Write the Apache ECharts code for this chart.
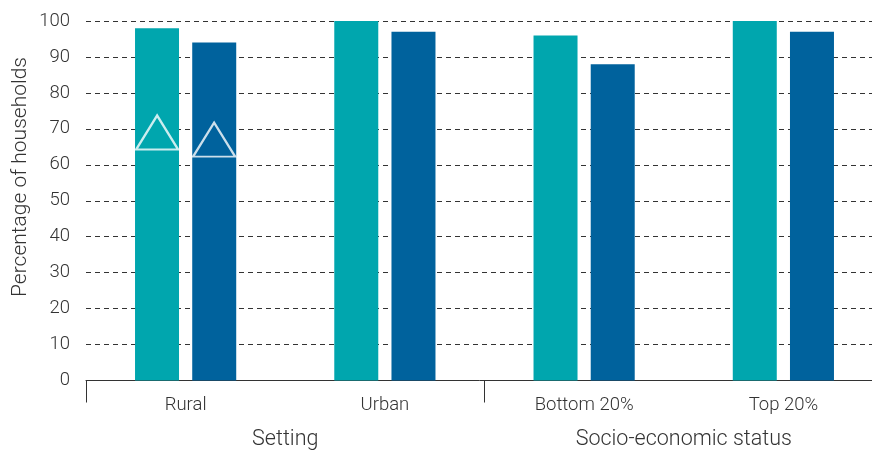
<!DOCTYPE html>
<html>
<head>
<meta charset="utf-8">
<script src="https://cdn.jsdelivr.net/npm/echarts@6/dist/echarts.min.js"></script>
<style>html,body{margin:0;padding:0;background:#fff;}#c{width:872px;height:452px;}</style>
</head>
<body>
<div id="c"></div>
<script>
var categories = ['Rural', 'Urban', 'Bottom 20%', 'Top 20%'];
var groups = ['Setting', 'Socio-economic status'];
var seriesA = [98, 100, 96, 100];
var seriesB = [94, 97, 88, 97];
var markersA = [69, '-', '-', '-'];
var markersB = [67, '-', '-', '-'];
var yTicks = [0, 10, 20, 30, 40, 50, 60, 70, 80, 90, 100];
var yName = 'Percentage of households';

var TEAL = '#00A6AE', BLUE = '#00629D', TXT = '#333333';
var FONT = 'Roboto';
var chart = echarts.init(document.getElementById('c'), null, {renderer: 'canvas'});
chart.setOption({
  animation: false,
  backgroundColor: '#fff',
  textStyle: {fontFamily: FONT},
  grid: {left: 86, width: 797, top: 21, bottom: 71.5, containLabel: false, outerBoundsMode: 'none'},
  graphic: [{
    type: 'text', x: 21, y: 177, rotation: Math.PI / 2,
    style: {text: yName, fill: TXT, fontFamily: FONT, fontWeight: 300, fontSize: 21,
            align: 'center', verticalAlign: 'middle', textAlign: 'center', textVerticalAlign: 'middle'}
  }],
  xAxis: [{
    type: 'category', data: categories, position: 'bottom',
    axisLine: {show: true, lineStyle: {color: '#333', width: 1}},
    axisTick: {show: false},
    axisLabel: {color: TXT, fontSize: 18.5, fontWeight: 300, margin: 15, fontFamily: FONT}
  }, {
    type: 'category', data: groups, position: 'bottom',
    axisLine: {show: false},
    axisTick: {show: true, length: 22, lineStyle: {color: '#333', width: 1}},
    axisLabel: {color: TXT, fontSize: 21.5, fontWeight: 300, margin: 48, fontFamily: FONT}
  }],
  yAxis: {
    type: 'value', min: yTicks[0], max: yTicks[yTicks.length - 1], interval: 10,
    axisLine: {show: false}, axisTick: {show: false},
    axisLabel: {color: TXT, fontSize: 18.5, fontWeight: 300, margin: 16, fontFamily: FONT},
    splitLine: {show: true, lineStyle: {color: '#333', type: [5, 4], width: 1}}
  },
  series: [{
    type: 'bar', data: seriesA, barWidth: 44, barGap: '30%', xAxisIndex: 0,
    itemStyle: {color: TEAL}
  }, {
    type: 'bar', data: seriesB, barWidth: 44, barGap: '30%', xAxisIndex: 0,
    itemStyle: {color: BLUE}
  }, {
    type: 'scatter', data: markersA, xAxisIndex: 0, symbol: 'triangle', symbolSize: [42, 34],
    symbolOffset: [-28.5, 0], z: 5,
    itemStyle: {color: 'rgba(0,0,0,0)', borderColor: '#fff', borderWidth: 2.2}
  }, {
    type: 'scatter', data: markersB, xAxisIndex: 0, symbol: 'triangle', symbolSize: [42, 34],
    symbolOffset: [28.5, 0], z: 5,
    itemStyle: {color: 'rgba(0,0,0,0)', borderColor: '#fff', borderWidth: 2.2}
  }]
});
</script>
</body>
</html>
